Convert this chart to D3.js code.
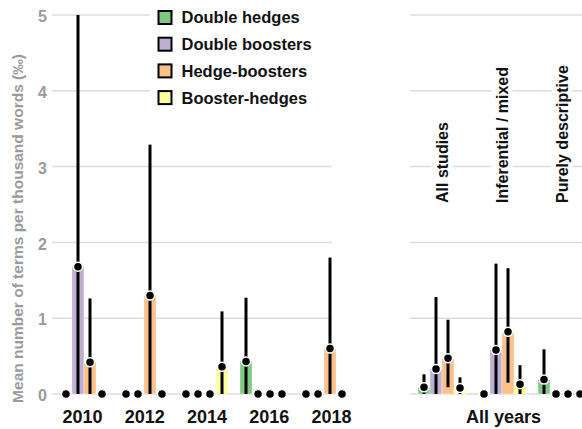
<!DOCTYPE html>
<html>
<head>
<meta charset="utf-8">
<script src="https://cdn.jsdelivr.net/npm/d3@7"></script>
<style>
  html, body { margin: 0; padding: 0; background: #fff; }
  svg { display: block; font-family: "Liberation Sans", Arial, Helvetica, sans-serif; }
</style>
</head>
<body>
<svg id="chart" width="582" height="429"></svg>
<script>
// ---------- data ----------
const types = ["Double hedges", "Double boosters", "Hedge-boosters", "Booster-hedges"];
const typeColors = ["#7fc97f", "#beaed4", "#fdc086", "#ffff99"];

const years = ["2010", "2012", "2014", "2016", "2018"];
// mean per type, order as in `types`
const yearMeans = [
  [0, 1.68, 0.42, 0],
  [0, 0, 1.30, 0],
  [0, 0, 0, 0.36],
  [0.43, 0, 0, 0],
  [0, 0, 0.60, 0]
];
const yearLower = [
  [null, 0, 0, null],
  [null, null, 0, null],
  [null, null, null, 0],
  [0, null, null, null],
  [null, null, 0, null]
];
const yearUpper = [
  [null, 5.0, 1.26, null],
  [null, null, 3.29, null],
  [null, null, null, 1.09],
  [1.27, null, null, null],
  [null, null, 1.80, null]
];

const studyGroups = ["All studies", "Inferential / mixed", "Purely descriptive"];
const groupMeans = [
  [0.09, 0.33, 0.47, 0.08],
  [0, 0.58, 0.82, 0.13],
  [0.19, 0, 0, 0]
];
const groupLower = [
  [0, 0, 0.09, 0],
  [null, 0, 0.15, 0],
  [0, null, null, null]
];
const groupUpper = [
  [0.26, 1.28, 0.98, 0.22],
  [null, 1.72, 1.66, 0.38],
  [0.59, null, null, null]
];

const yTicks = [0, 1, 2, 3, 4, 5];
const yTitle = "Mean number of terms per thousand words (‰)";
const allYearsLabel = "All years";

// ---------- scales ----------
const svg = d3.select("#chart");
const y = d3.scaleLinear().domain([0, 5]).range([394, 15]);
const xYear = d3.scaleBand().domain(years).range([60, 348]).paddingInner(0.2).paddingOuter(0);
const xYearLabel = d3.scalePoint().domain(years).range([82, 331]);
const xGroup = d3.scaleBand().domain(studyGroups).range([418, 586]).paddingInner(0.2).paddingOuter(0);
const xType = d3.scaleBand().domain(types).range([0, xYear.bandwidth()]);
const color = d3.scaleOrdinal().domain(types).range(typeColors);

const gridColor = "#dcdcdc";
const grayText = "#9a9a9a";

// ---------- gridlines ----------
const grid = svg.append("g");
grid.selectAll("line.gl").data(yTicks).join("line")
  .attr("x1", 52).attr("x2", 332)
  .attr("y1", d => y(d)).attr("y2", d => y(d))
  .attr("stroke", gridColor).attr("stroke-width", 1.5);
grid.selectAll("line.gr").data(yTicks).join("line").attr("class", "gr")
  .attr("x1", 410).attr("x2", 582)
  .attr("y1", d => y(d)).attr("y2", d => y(d))
  .attr("stroke", gridColor).attr("stroke-width", 1.5);

// ---------- y axis labels ----------
const yAxis = d3.axisLeft(y).tickValues(yTicks).tickSize(0).tickPadding(0).tickFormat(d3.format("d"));
const yg = svg.append("g").attr("transform", "translate(47,0)").call(yAxis);
yg.select(".domain").remove();
yg.selectAll("text")
  .attr("fill", grayText).attr("font-size", 16).attr("font-weight", "bold")
  .attr("dy", "0.42em")
  .attr("font-family", "Liberation Sans, Arial, sans-serif");

svg.append("text")
  .attr("transform", "translate(22.5,228.5) rotate(-90)")
  .attr("text-anchor", "middle")
  .attr("fill", grayText).attr("font-size", 15.5).attr("font-weight", "bold")
  .text(yTitle);

// ---------- legend (with white backdrop) ----------
svg.append("rect").attr("x", 150).attr("y", 0).attr("width", 182).attr("height", 110).attr("fill", "#fff");
const leg = svg.append("g");
types.forEach((t, i) => {
  const cy = 17.5 + i * 26.7;
  leg.append("rect")
    .attr("x", 158.5).attr("y", cy - 6.5).attr("width", 13).attr("height", 13)
    .attr("fill", color(t)).attr("stroke", "#000").attr("stroke-width", 2);
  leg.append("text")
    .attr("x", 181.5).attr("y", cy).attr("dy", "0.36em")
    .attr("font-size", 16.5).attr("font-weight", "bold").attr("fill", "#111")
    .text(t);
});

// ---------- right-panel rotated labels ----------
studyGroups.forEach(g => {
  const cx = xGroup(g) + xGroup.bandwidth() / 2 + 5.5;
  const lg = svg.append("g").attr("transform", `translate(${cx},203) rotate(-90)`);
  const bg = lg.append("rect").attr("fill", "#fff");
  const tx = lg.append("text")
    .attr("x", 0).attr("y", 0)
    .attr("font-size", 16).attr("font-weight", "bold").attr("fill", "#111")
    .text(g);
  const bb = tx.node().getBBox();
  bg.attr("x", bb.x - 3).attr("y", bb.y - 2).attr("width", bb.width + 6).attr("height", bb.height + 4);
});

// ---------- marks ----------
function buildRows(cats, xs, means, lows, ups) {
  const rows = [];
  cats.forEach((c, gi) => {
    types.forEach((t, ti) => {
      rows.push({
        cx: xs(c) + xType(t) + xType.bandwidth() / 2,
        x0: xs(c) + xType(t),
        type: t,
        mean: means[gi][ti],
        lo: lows[gi][ti],
        hi: ups[gi][ti]
      });
    });
  });
  return rows;
}
const rows = buildRows(years, xYear, yearMeans, yearLower, yearUpper)
  .concat(buildRows(studyGroups, xGroup, groupMeans, groupLower, groupUpper));

const marks = svg.append("g");
marks.selectAll("rect.bar").data(rows.filter(d => d.mean > 0)).join("rect")
  .attr("class", "bar")
  .attr("x", d => d.x0).attr("width", xType.bandwidth())
  .attr("y", d => y(d.mean)).attr("height", d => y(0) - y(d.mean))
  .attr("fill", d => color(d.type))
  .attr("stroke", "#fff").attr("stroke-width", 0.4);

marks.selectAll("line.err").data(rows.filter(d => d.hi !== null)).join("line")
  .attr("class", "err")
  .attr("x1", d => d.cx).attr("x2", d => d.cx)
  .attr("y1", d => y(d.lo)).attr("y2", d => y(d.hi))
  .attr("stroke", "#000").attr("stroke-width", 3);

marks.selectAll("circle.dot").data(rows).join("circle")
  .attr("class", "dot")
  .attr("cx", d => d.cx).attr("cy", d => y(d.mean))
  .attr("r", 4.5)
  .attr("fill", "#000").attr("stroke", "#fff").attr("stroke-width", 1.5);

// ---------- x labels ----------
const xAxis = d3.axisBottom(xYearLabel).tickSize(0).tickPadding(0);
const xg = svg.append("g").attr("transform", "translate(0,423)").call(xAxis);
xg.select(".domain").remove();
xg.selectAll("text")
  .attr("y", 0).attr("dy", 0)
  .attr("font-size", 18).attr("font-weight", "bold").attr("fill", "#111")
  .attr("font-family", "Liberation Sans, Arial, sans-serif");

svg.append("text")
  .attr("x", 503.5).attr("y", 423)
  .attr("text-anchor", "middle")
  .attr("font-size", 18).attr("font-weight", "bold").attr("fill", "#111")
  .text(allYearsLabel);
</script>
</body>
</html>
